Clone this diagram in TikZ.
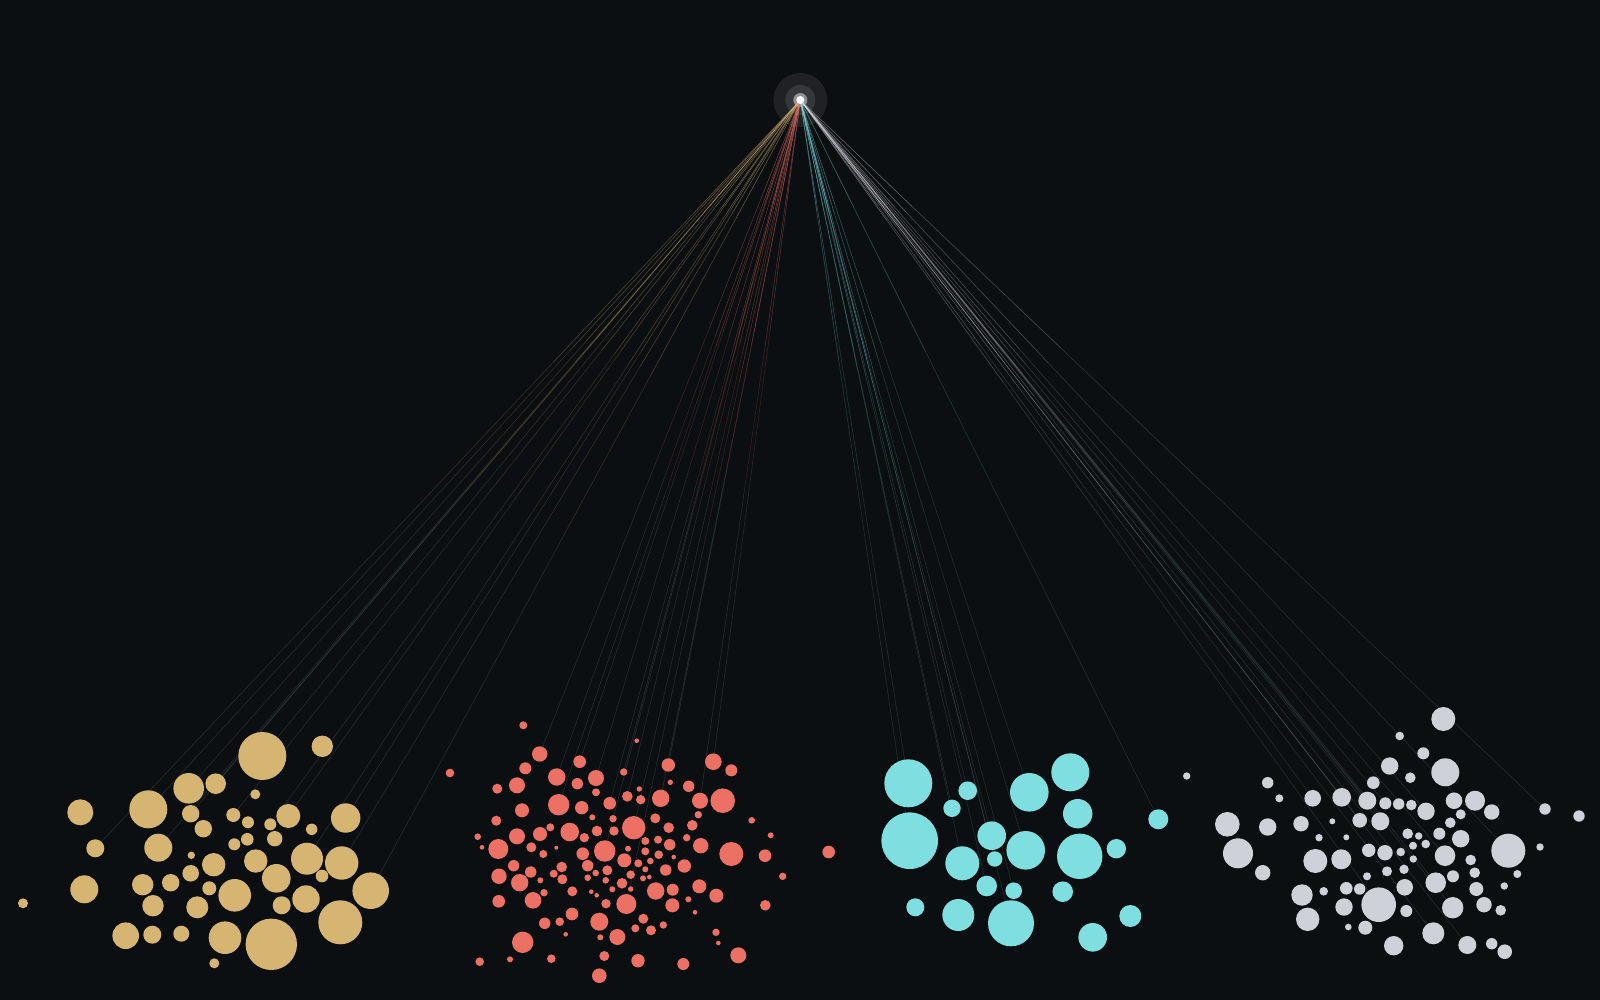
\documentclass[tikz,border=0pt]{standalone}
\usetikzlibrary{calc}
\definecolor{bgc}{HTML}{0C0F12}
\definecolor{goldc}{HTML}{D6B472}
\definecolor{redc}{HTML}{EC7063}
\definecolor{cyanc}{HTML}{7FDEDF}
\definecolor{grayc}{HTML}{CFD1D8}
\definecolor{fadec}{HTML}{5E7A76}
\pgfdeclarelayer{bg}\pgfdeclarelayer{edges}\pgfsetlayers{bg,edges,main}
\tikzset{
  dot/.style={circle, inner sep=0pt, outer sep=0pt, draw=none, fill=#1},
  edgeline/.style={line width=0.55pt, draw=#1},
}
\newcommand{\fanline}[2]{%
  \draw[edgeline=#1, opacity=0.45] (hub.center) -- ($(hub.center)!0.15!(#2.center)$);
  \draw[edgeline=#1, opacity=0.32] ($(hub.center)!0.15!(#2.center)$) -- ($(hub.center)!0.35!(#2.center)$);
  \draw[edgeline=#1, opacity=0.2] ($(hub.center)!0.35!(#2.center)$) -- ($(hub.center)!0.55!(#2.center)$);
  \draw[edgeline=fadec, opacity=0.3] ($(hub.center)!0.55!(#2.center)$) -- (#2.center);
}
\begin{document}
\begin{tikzpicture}[x=1pt,y=-1pt]
\begin{pgfonlayer}{bg}
  \fill[bgc] (0,0) rectangle (1600,1000);
\end{pgfonlayer}
\useasboundingbox (0,0) rectangle (1600,1000);

% hub
\node[dot=white, minimum size=8pt] (hub) at (800.3,100) {};
\begin{pgfonlayer}{bg}
  \fill[white, opacity=0.08] (hub.center) circle (27pt);
  \fill[white, opacity=0.10] (hub.center) circle (15pt);
  \fill[white, opacity=0.45] (hub.center) circle (7pt);
\end{pgfonlayer}

% gold cluster
\foreach \n/\x/\y/\r in {1/262.3/756/24, 2/322.3/746.3/10.7, 3/188.7/788.3/15.3, 4/215.7/783.7/10.3,
  5/255.3/794.3/5, 6/80.3/812.3/13, 7/148.3/809.3/19, 8/190.7/813.7/8.7, 9/233.3/815/7,
  10/248/822.3/6, 11/203.3/828.7/8.7, 12/270.3/824.3/6, 13/288.3/816/12, 14/345.7/818/14.7,
  15/311.7/829.3/5.7, 16/95.3/848.3/9, 17/158.3/847.7/14, 18/247.3/839.3/6.3, 19/234.3/844.3/6,
  20/274.7/838.7/7.7, 21/191.3/855.3/3.7, 22/213.7/864.7/11.7, 23/255.7/861/11.7, 24/307/858.7/16,
  25/341.7/863/16.7, 26/322/876/6.3, 27/84.3/889.3/14, 28/142.7/884.7/10.7, 29/170.7/882.7/8.7,
  30/190.7/873.3/8.3, 31/209.3/888.3/7, 32/234.7/895.3/16.3, 33/276.3/878.3/14.3, 34/370.7/890.7/18.3,
  35/23/903.3/5, 36/153/905.7/10.7, 37/197.3/907.3/11, 38/281.7/905.3/9, 39/306/899/13.7,
  40/340.3/922.3/22, 41/125.7/935.7/13.3, 42/152.3/934.7/9, 43/181.3/933.7/8, 44/225/937.7/16.3,
  45/271.3/944.3/25.7, 46/214.3/963.3/5}
  \node[dot=goldc, minimum size=2*\r pt] (g\n) at (\x,\y) {};

% red cluster
\foreach \n/\x/\y/\r in {1/523.3/725.3/4, 2/636.7/740.7/2.3, 3/450/773/4.3, 4/539.7/754/7.7,
  5/579.7/761.7/6.3, 6/525.3/768.3/6, 7/556.7/777/8.7, 8/596/778/8, 9/577.3/783.7/5.7,
  10/497.3/788.7/5, 11/517/785.3/8, 12/623.7/772/3.7, 13/668.3/765/6.7, 14/713.3/761.7/8.3,
  15/731.3/770.3/6, 16/670.3/782.3/2.7, 17/688.7/786.3/5.7, 18/596/792.3/4, 19/558.7/804.7/10.7,
  20/581.7/807.7/6.7, 21/609.7/803.3/6.3, 22/627.3/796.3/5.3, 23/639.3/789/2.7, 24/640.7/799.7/4.7,
  25/660.7/798.3/8.7, 26/700/800.7/8, 27/722.7/800.7/12.3, 28/522/810.3/7, 29/496.3/820.7/5,
  30/592.3/817.3/3, 31/613/818.7/3.7, 32/633.7/827.7/11.7, 33/655.3/818.3/5, 34/698.3/814.7/3.7,
  35/692.3/825.3/5.3, 36/668.7/827.7/5.3, 37/751.7/820.3/3.3, 38/477.7/836.7/3.3, 39/482/847.3/2.3,
  40/498.3/849/10, 41/517/836.3/8, 42/540/834/7, 43/550.3/827.3/4, 44/569.7/832/9.3,
  45/584.3/837.7/4.7, 46/597/831/5.3, 47/614/831/4.7, 48/645.3/841/4, 49/658/839.7/4,
  50/669.7/844.7/5.7, 51/686.7/837.7/3.7, 52/700.7/845.7/7.7, 53/731.3/854/12, 54/770.7/835.3/3,
  55/765/855.7/6.3, 56/828.7/852/6.3, 57/531.3/847.3/5, 58/543.3/854/4, 59/556.3/847.7/2,
  60/582.7/853.7/6.3, 61/604.7/851/10.7, 62/628/848.7/3, 63/645.3/851.3/4, 64/658.7/854.7/4.3,
  65/673.7/857/2.3, 66/624.3/860.3/7, 67/638.3/863.3/4, 68/650.3/861/3.3, 69/665.7/870/5.7,
  70/684.3/866/6.7, 71/513.7/865.7/5.7, 72/530.7/872/5.7, 73/561.7/867/5.3, 74/587.7/865.7/5.7,
  75/607.3/870.3/5, 76/553.7/873.7/4, 77/595.7/873/3.3, 78/645.3/869.3/3, 79/649.3/877/2.3,
  80/499/876.3/7.7, 81/519.7/882.7/8.7, 82/540.3/880.3/3, 83/562.3/879.3/5, 84/587.7/877.7/3.3,
  85/605.7/880.3/3.3, 86/630.7/874.7/4.3, 87/643/878.3/3, 88/622/883.3/5.3, 89/699.3/886.3/7,
  90/782.7/876.3/3.7, 91/498.7/901.3/6.3, 92/533/900.3/8.3, 93/544/892.7/3.7, 94/572.3/891.3/5,
  95/591.3/891.7/2.3, 96/596.7/895.3/2.3, 97/612.3/889.3/3, 98/630.7/889/2.7, 99/626.3/904/10,
  100/606/903.7/4.7, 101/655.7/891/8.7, 102/672.7/889.7/6, 103/688.3/899.3/3, 104/672.3/905.3/7,
  105/716.3/895.7/7, 106/765.3/905.3/5.3, 107/695/912.3/2.3, 108/572/914/6.3, 109/544.7/923.3/5.7,
  110/559.7/921.7/4.3, 111/599.3/921.7/9, 112/643.3/918.7/5, 113/635.3/928.3/4, 114/651/930.3/5,
  115/663.3/925/3.7, 116/565.7/934.3/2.3, 117/522.7/942.3/10.7, 118/600.3/937.3/3, 119/617.3/937/8,
  120/716/932.3/3.7, 121/718.3/943/2.3, 122/738.3/955.3/8, 123/479.7/961.7/4.3, 124/510/959.3/3,
  125/551.3/958.7/4.3, 126/604.3/956/5, 127/638/960.7/6.7, 128/683.3/964/6, 129/599.3/975.7/7.3}
  \node[dot=redc, minimum size=2*\r pt] (r\n) at (\x,\y) {};

% cyan cluster
\foreach \n/\x/\y/\r in {1/908.3/783.3/24, 2/967.7/790.7/9.3, 3/952/808.3/8.7, 4/1029.3/792.3/19.3,
  5/1070.3/772.3/19, 6/1077.7/813.7/14.7, 7/1158.3/819.3/10, 8/909.7/840.7/28.3, 9/991.7/835.7/14.3,
  10/1025.7/850.3/19.3, 11/1079.7/856.3/22.7, 12/1116.3/848.7/9.7, 13/962.3/863.3/17, 14/994.7/859/7.7,
  15/986.7/886/10.3, 16/1013.7/890.7/8.3, 17/1062.7/891.7/10.3, 18/915.3/907.3/9, 19/958.3/915/16,
  20/1011/923.3/23, 21/1130.3/916/11, 22/1092.7/937.3/14.3}
  \node[dot=cyanc, minimum size=2*\r pt] (c\n) at (\x,\y) {};

% gray cluster
\foreach \n/\x/\y/\r in {1/1443.3/719/12, 2/1399.7/736/4.3, 3/1423.3/753.3/6, 4/1389.7/766/8.7,
  5/1445.3/772.3/14, 6/1410.3/777.7/5.3, 7/1186.7/776/3.7, 8/1267.7/782.7/5.7, 9/1279.3/798.3/4,
  10/1373.3/782.7/6.3, 11/1312.7/798.3/8.3, 12/1341.7/797.3/9.3, 13/1367.3/800.7/9, 14/1385.3/803.3/6,
  15/1398.7/804/5.7, 16/1411.3/805/5.3, 17/1426/811.3/8.7, 18/1454/800.7/8.3, 19/1475/800.7/10,
  20/1491.7/812/7.7, 21/1460.7/814.3/5, 22/1545/809/5.7, 23/1579/816/5.7, 24/1227.3/824.3/12.3,
  25/1267.7/827/8.7, 26/1301/823.7/7.7, 27/1332.3/821.3/3, 28/1359.7/820.3/7.3, 29/1380.3/821.3/9,
  30/1450.3/822.7/5.3, 31/1439.3/833.7/6, 32/1407.7/833.7/5.3, 33/1418.7/836/3.7, 34/1460.7/838.7/8.7,
  35/1508.3/850.7/17, 36/1540/847/3.7, 37/1238/853.3/15, 38/1319/837.7/3.7, 39/1346.3/837.3/3,
  40/1413/845.7/4, 41/1425.7/844/4.3, 42/1368.7/850.3/6.7, 43/1385/852.7/7.7, 44/1400.7/852/4.3,
  45/1413.3/859/3.7, 46/1445/855.7/10.3, 47/1470.7/860/5.3, 48/1315.3/861/12, 49/1341.3/859.3/10,
  50/1262.7/872.7/7.7, 51/1387/871.3/5, 52/1404/869.3/4.7, 53/1474.7/872.7/5.3, 54/1517.3/874/4,
  55/1367/876.3/4, 56/1453/876.3/6, 57/1435.7/882.7/10.3, 58/1504.3/886/3.7, 59/1302/895/10.7,
  60/1323.7/891.3/4.3, 61/1346.3/888.3/6.3, 62/1359.7/889/5.7, 63/1378.7/904.7/17.3, 64/1404.7/887.3/8.3,
  65/1476.3/889/7, 66/1344/907/8.7, 67/1406.3/911/6, 68/1452.7/907.7/10.7, 69/1484/904.7/7.7,
  70/1500.7/910.3/5.3, 71/1307.7/919.3/11.7, 72/1348.3/927/3.3, 73/1365.3/927.7/7, 74/1433.3/933.3/11,
  75/1393.7/945.7/9.7, 76/1467.3/945/9, 77/1491.7/943.7/5.7, 78/1504.7/951.7/7.3}
  \node[dot=grayc, minimum size=2*\r pt] (s\n) at (\x,\y) {};

% fan of connectors
\begin{pgfonlayer}{edges}
  \foreach \n in {16,7,17,3,8,1,4,9,13,12,14,24,25,34}
    {\fanline{goldc}{g\n}}
  \foreach \n in {4,5,7,8,12,19,21,22,13,25,32,61,99,14,26}
    {\fanline{redc}{r\n}}
  \foreach \n in {1,8,2,3,9,13,14,15,4,10,16,20,7}
    {\fanline{cyanc}{c\n}}
  \foreach \n in {11,12,13,14,28,29,17,43,46,57,63,68,74,76,35,22}
    {\fanline{grayc}{s\n}}
\end{pgfonlayer}
\end{tikzpicture}
\end{document}
